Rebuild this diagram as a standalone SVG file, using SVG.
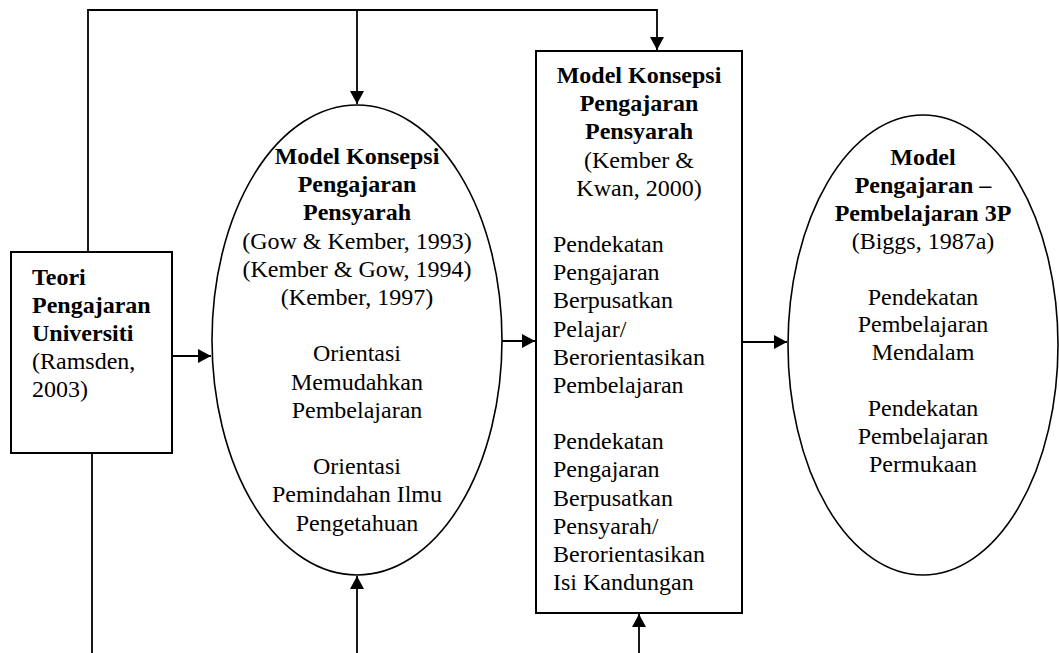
<svg xmlns="http://www.w3.org/2000/svg" width="1059" height="653" viewBox="0 0 1059 653">
<style>
text{font-family:"Liberation Serif","Times New Roman",serif;font-size:24px;fill:#000}
.b{font-weight:bold}
.c{text-anchor:middle}
.shape{fill:#fff;stroke:#000;stroke-width:2}
.oval{fill:#fff;stroke:#000;stroke-width:1.6}
.conn{fill:none;stroke:#000;stroke-width:1.8}
</style>
<defs>
<marker id="ah" markerWidth="14" markerHeight="14" refX="13" refY="7" orient="auto" markerUnits="userSpaceOnUse">
<path d="M0,0 L13,7 L0,14 z" fill="#000"/>
</marker>
</defs>
<rect width="1059" height="653" fill="#fff"/>
<g id="connectors">
<path class="conn" d="M88,252 V10 H657 V50" marker-end="url(#ah)"/>
<path class="conn" d="M357,10 V104" marker-end="url(#ah)"/>
<path class="conn" d="M92,453 V653"/>
<path class="conn" d="M357,653 V576" marker-end="url(#ah)"/>
<path class="conn" d="M639,653 V614" marker-end="url(#ah)"/>
<path class="conn" d="M172,356 H211" marker-end="url(#ah)"/>
<path class="conn" d="M502,341 H535" marker-end="url(#ah)"/>
<path class="conn" d="M742,342 H787" marker-end="url(#ah)"/>
</g>
<g id="teori">
<rect class="shape" x="11" y="252" width="161" height="201"/>
<text x="32" y="285" class="b">Teori</text>
<text x="32" y="313" class="b">Pengajaran</text>
<text x="32" y="341" class="b">Universiti</text>
<text x="32" y="369">(Ramsden,</text>
<text x="32" y="397">2003)</text>
</g>
<g id="model-konsepsi-1">
<ellipse class="oval" cx="357" cy="340" rx="145" ry="235"/>
<text x="357" y="164" class="c b">Model Konsepsi</text>
<text x="357" y="192.2" class="c b">Pengajaran</text>
<text x="357" y="220.4" class="c b">Pensyarah</text>
<text x="357" y="248.6" class="c">(Gow &amp; Kember, 1993)</text>
<text x="357" y="276.8" class="c">(Kember &amp; Gow, 1994)</text>
<text x="357" y="305" class="c">(Kember, 1997)</text>
<text x="357" y="361.4" class="c">Orientasi</text>
<text x="357" y="389.6" class="c">Memudahkan</text>
<text x="357" y="417.8" class="c">Pembelajaran</text>
<text x="357" y="474.2" class="c">Orientasi</text>
<text x="357" y="502.4" class="c">Pemindahan Ilmu</text>
<text x="357" y="530.6" class="c">Pengetahuan</text>
</g>
<g id="model-konsepsi-2">
<rect class="shape" x="536" y="51" width="206" height="562"/>
<text x="639" y="83" class="c b">Model Konsepsi</text>
<text x="639" y="111.2" class="c b">Pengajaran</text>
<text x="639" y="139.3" class="c b">Pensyarah</text>
<text x="639" y="167.5" class="c">(Kember &amp;</text>
<text x="639" y="195.7" class="c">Kwan, 2000)</text>
<text x="553" y="252">Pendekatan</text>
<text x="553" y="280.2">Pengajaran</text>
<text x="553" y="308.4">Berpusatkan</text>
<text x="553" y="336.5">Pelajar/</text>
<text x="553" y="364.7">Berorientasikan</text>
<text x="553" y="392.9">Pembelajaran</text>
<text x="553" y="449.2">Pendekatan</text>
<text x="553" y="477.4">Pengajaran</text>
<text x="553" y="505.6">Berpusatkan</text>
<text x="553" y="533.7">Pensyarah/</text>
<text x="553" y="561.9">Berorientasikan</text>
<text x="553" y="590">Isi Kandungan</text>
</g>
<g id="model-3p">
<ellipse class="oval" cx="923" cy="345" rx="135" ry="230"/>
<text x="923" y="165" class="c b">Model</text>
<text x="923" y="192.9" class="c b">Pengajaran –</text>
<text x="923" y="220.8" class="c b">Pembelajaran 3P</text>
<text x="923" y="248.7" class="c">(Biggs, 1987a)</text>
<text x="923" y="304.5" class="c">Pendekatan</text>
<text x="923" y="332.4" class="c">Pembelajaran</text>
<text x="923" y="360.3" class="c">Mendalam</text>
<text x="923" y="416.1" class="c">Pendekatan</text>
<text x="923" y="444" class="c">Pembelajaran</text>
<text x="923" y="471.9" class="c">Permukaan</text>
</g>
</svg>
